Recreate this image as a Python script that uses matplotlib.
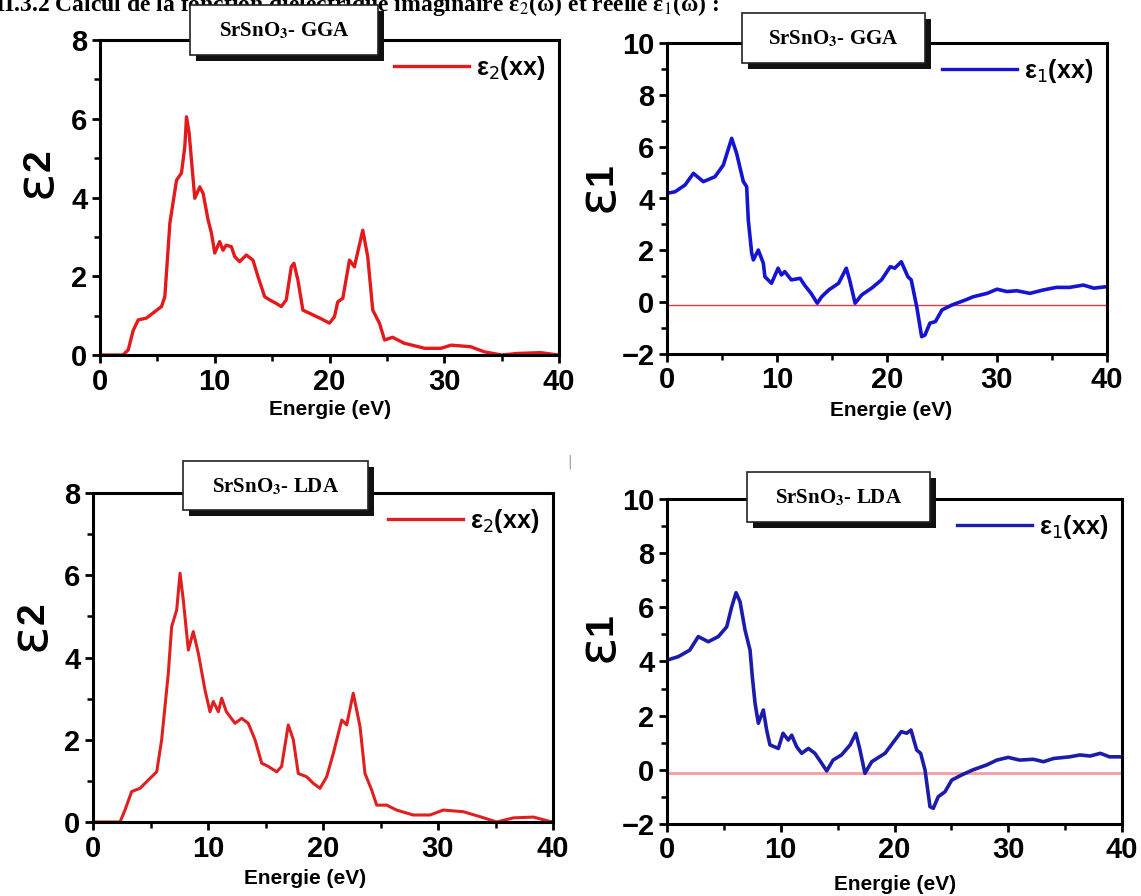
import matplotlib
matplotlib.use("Agg")
import matplotlib.pyplot as plt
from matplotlib.patches import Rectangle
from matplotlib.ticker import MultipleLocator

# ---------------- data ----------------
energy_gga_e2 = [0, 2.0, 2.46, 2.9, 3.33, 4.06, 4.64, 5.36, 5.65, 6.09, 6.67, 7.1, 7.39, 7.54, 7.77,
                 8.26, 8.7, 8.99, 9.42, 9.71, 10.0, 10.43, 10.72, 11.0, 11.45, 11.74, 12.17, 12.75,
                 13.33, 13.77, 14.35, 14.78, 15.36, 15.8, 16.23, 16.67, 16.9, 17.25, 17.68, 18.26,
                 19.13, 20.0, 20.43, 20.72, 21.16, 21.74, 22.17, 22.9, 23.33, 23.77, 24.35, 24.8,
                 25.5, 26.5, 28.3, 29.7, 30.6, 32.3, 33.5, 35.0, 36.4, 38.4, 39.9, 40]
eps2_gga = [0, 0, 0.13, 0.63, 0.89, 0.94, 1.07, 1.23, 1.48, 3.35, 4.44, 4.62, 5.29, 6.05, 5.63,
            3.98, 4.27, 4.1, 3.43, 3.1, 2.59, 2.88, 2.66, 2.79, 2.75, 2.5, 2.37, 2.54,
            2.41, 1.99, 1.48, 1.40, 1.31, 1.23, 1.40, 2.24, 2.33, 1.9, 1.14, 1.06,
            0.94, 0.81, 0.97, 1.35, 1.44, 2.41, 2.24, 3.17, 2.5, 1.14, 0.81, 0.38,
            0.45, 0.3, 0.17, 0.17, 0.25, 0.21, 0.08, 0.0, 0.04, 0.06, 0.0, 0.02]

energy_gga_e1 = [0, 0.73, 1.64, 2.4, 3.3, 4.36, 5.12, 5.88, 6.33, 6.94, 7.24, 7.39, 7.7, 7.85,
                 8.3, 8.76, 8.9, 9.5, 10.1, 10.4, 10.7, 11.3, 12.1, 12.5, 13.1, 13.66, 14.06,
                 14.7, 15.6, 16.3, 16.6, 17.1, 17.7, 18.6, 19.5, 20.3, 20.7, 21.3, 21.9, 22.2,
                 22.7, 23.15, 23.45, 23.9, 24.4, 25.0, 25.9, 27.1, 27.85, 29.1, 30.0, 30.9,
                 31.8, 33.0, 34.2, 35.4, 36.6, 37.85, 38.8, 40]
eps1_gga = [4.2, 4.26, 4.52, 4.97, 4.65, 4.84, 5.29, 6.32, 5.74, 4.65, 4.46, 3.17, 1.89, 1.63,
            2.01, 1.5, 0.98, 0.73, 1.31, 1.05, 1.18, 0.86, 0.92, 0.66, 0.34, -0.04, 0.21,
            0.47, 0.73, 1.31, 0.86, -0.04, 0.28, 0.54, 0.86, 1.37, 1.31, 1.56, 0.98, 0.86,
            -0.17, -1.33, -1.27, -0.81, -0.75, -0.3, -0.11, 0.08, 0.21, 0.34, 0.5, 0.41,
            0.44, 0.34, 0.47, 0.57, 0.57, 0.66, 0.54, 0.6]

energy_lda_e2 = [0, 2.35, 2.78, 3.36, 4.09, 4.81, 5.54, 5.97, 6.55, 6.84, 7.28, 7.57, 7.85, 8.29,
                 8.72, 9.16, 9.74, 10.17, 10.46, 10.9, 11.19, 11.6, 12.35, 12.93, 13.5, 14.09,
                 14.67, 15.25, 15.97, 16.4, 16.98, 17.42, 17.85, 18.58, 19.16, 19.74, 20.32,
                 20.9, 21.63, 22.06, 22.63, 23.22, 23.65, 24.23, 24.67, 25.54, 26.4, 27.85,
                 29.3, 30.46, 32.2, 33.65, 35.1, 36.55, 38.3, 39.9, 40]
eps2_lda = [0, 0, 0.29, 0.74, 0.82, 1.02, 1.22, 2.0, 3.62, 4.75, 5.16, 6.05, 5.4, 4.18,
            4.63, 4.1, 3.21, 2.68, 2.93, 2.68, 3.01, 2.68, 2.4, 2.52, 2.4, 2.0,
            1.43, 1.35, 1.22, 1.35, 2.36, 2.0, 1.18, 1.1, 0.94, 0.82, 1.1,
            1.67, 2.48, 2.36, 3.13, 2.32, 1.18, 0.78, 0.41, 0.41, 0.29, 0.17,
            0.17, 0.29, 0.25, 0.13, 0.0, 0.1, 0.12, 0.0, 0.02]

energy_lda_e1 = [0, 1.0, 2.0, 2.75, 3.63, 4.51, 5.25, 5.69, 6.07, 6.42, 6.86, 7.3, 7.5, 7.74,
                 8.03, 8.47, 8.76, 9.05, 9.79, 10.2, 10.66, 10.96, 11.4, 11.84, 12.43, 13.0,
                 13.6, 14.04, 14.6, 15.34, 16.1, 16.6, 16.97, 17.4, 18.0, 19.17, 20.04, 20.6,
                 21.07, 21.45, 21.95, 22.3, 22.68, 23.12, 23.41, 23.85, 24.44, 25.03, 25.9,
                 26.9, 28.1, 29.0, 30.0, 31.0, 32.2, 33.1, 34.0, 35.4, 36.3, 37.2, 38.1,
                 38.9, 40]
eps1_lda = [4.05, 4.18, 4.42, 4.92, 4.73, 4.92, 5.28, 6.02, 6.54, 6.21, 5.16, 4.42, 3.44, 2.46,
            1.72, 2.21, 1.47, 0.92, 0.79, 1.35, 1.1, 1.28, 0.85, 0.61, 0.79, 0.61,
            0.24, -0.04, 0.36, 0.55, 0.92, 1.35, 0.73, -0.13, 0.3, 0.61, 1.1, 1.41,
            1.35, 1.47, 0.73, 0.61, 0.0, -1.36, -1.42, -0.99, -0.81, -0.38, -0.19,
            0.0, 0.18, 0.36, 0.46, 0.36, 0.39, 0.3, 0.42, 0.48, 0.55, 0.51, 0.61,
            0.48, 0.48]

ref_level = -0.1

box_titles = ["SrSnO$_\\mathbf{3}$- GGA", "SrSnO$_\\mathbf{3}$- GGA",
              "SrSnO$_\\mathbf{3}$- LDA", "SrSnO$_\\mathbf{3}$- LDA"]
legend_e2 = "ε$_2$(xx)"
legend_e1 = "ε$_1$(xx)"
ylabel_e2 = ("ε", "2")
ylabel_e1 = ("ε", "1")
xlabel = "Energie (eV)"
header = "II.3.2 Calcul de la fonction diélectrique imaginaire ε$_2$(ω) et réelle ε$_1$(ω) :"

# ---------------- figure ----------------
W, H = 1141, 896
fig = plt.figure(figsize=(W / 100, H / 100), dpi=100)
fig.patch.set_facecolor("white")


def px_rect(l, t, r, b):
    return [l / W, 1 - b / H, (r - l) / W, (b - t) / H]


panels = [
    dict(rect=px_rect(100, 40, 559, 355), x=energy_gga_e2, y=eps2_gga, color="#e3191c", lw=2.4,
         ylim=(0, 8), ymaj=2, leg=legend_e2, ylab=ylabel_e2, ylab_pos=(36, 172),
         xlab_pos=(330, 409), box=(190, 5, 378, 55), title=box_titles[0], ref=None),
    dict(rect=px_rect(667, 43, 1107, 354), x=energy_gga_e1, y=eps1_gga, color="#1414d2", lw=2.6,
         ylim=(-2, 10), ymaj=2, leg=legend_e1, ylab=ylabel_e1, ylab_pos=(598, 186),
         xlab_pos=(891, 410), box=(742, 13, 925, 63), title=box_titles[1],
         ref=dict(color="#d84040", lw=1.0)),
    dict(rect=px_rect(93, 493, 553, 822), x=energy_lda_e2, y=eps2_lda, color="#e02020", lw=2.2,
         ylim=(0, 8), ymaj=2, leg=legend_e2, ylab=ylabel_e2, ylab_pos=(30, 625),
         xlab_pos=(305, 878), box=(183, 461, 368, 510), title=box_titles[2], ref=None),
    dict(rect=px_rect(667, 499, 1122, 824), x=energy_lda_e1, y=eps1_lda, color="#1c1caa", lw=2.6,
         ylim=(-2, 10), ymaj=2, leg=legend_e1, ylab=ylabel_e1, ylab_pos=(598, 636),
         xlab_pos=(895, 884), box=(747, 472, 930, 522), title=box_titles[3],
         ref=dict(color="#f5a3ab", lw=2.2)),
]

for p in panels:
    ax = fig.add_axes(p["rect"])
    if p["ref"] is not None:
        ax.axhline(ref_level, color=p["ref"]["color"], lw=p["ref"]["lw"], zorder=1)
    ax.plot(p["x"], p["y"], color=p["color"], lw=p["lw"], label=p["leg"], zorder=2,
            solid_joinstyle="round")
    ax.set_xlim(0, 40)
    ax.set_ylim(*p["ylim"])
    ax.xaxis.set_major_locator(MultipleLocator(10))
    ax.xaxis.set_minor_locator(MultipleLocator(5))
    ax.yaxis.set_major_locator(MultipleLocator(p["ymaj"]))
    ax.yaxis.set_minor_locator(MultipleLocator(1))
    for s in ax.spines.values():
        s.set_linewidth(2.2)
    ax.tick_params(which="major", direction="out", length=6, width=2, pad=3)
    ax.tick_params(which="minor", direction="out", length=4, width=1.8)
    for lab in ax.get_xticklabels() + ax.get_yticklabels():
        lab.set_fontfamily("Liberation Sans")
        lab.set_fontweight("bold")
        lab.set_fontsize(21)
    leg = ax.legend(loc="upper right", frameon=False, handlelength=3.0, handletextpad=0.3,
                    borderaxespad=0.15, bbox_to_anchor=(1.0, 1.0),
                    prop=dict(family="Liberation Sans", weight="bold", size=18))
    for line in leg.get_lines():
        line.set_linewidth(2.4)

    # y label: big epsilon with its index just above it (rotated)
    cx, cy = p["ylab_pos"]
    fig.text(cx / W, 1 - (cy + 12) / H, p["ylab"][0], rotation=90,
             ha="center", va="center", fontsize=38, fontfamily="DejaVu Sans")
    fig.text((cx + 4) / W, 1 - (cy - 12) / H, p["ylab"][1], rotation=90,
             ha="center", va="center", fontsize=28, fontfamily="Liberation Sans",
             fontweight="bold")
    # x label
    fig.text(p["xlab_pos"][0] / W, 1 - p["xlab_pos"][1] / H, xlabel, ha="center", va="center",
             fontfamily="Liberation Sans", fontweight="bold", fontsize=15)

    # title box with shadow
    l, t, r, b = p["box"]
    sh = 6
    fig.add_artist(Rectangle(((l + sh) / W, 1 - (b + sh) / H), (r - l) / W, (b - t) / H,
                             transform=fig.transFigure, facecolor="#111111",
                             edgecolor="none", zorder=5))
    fig.add_artist(Rectangle((l / W, 1 - b / H), (r - l) / W, (b - t) / H,
                             transform=fig.transFigure, facecolor="white",
                             edgecolor="#222222", lw=1.2, zorder=6))
    fig.text((l + r) / 2 / W, 1 - ((t + b) / 2 + 1) / H, p["title"], ha="center", va="center",
             fontfamily="Liberation Serif", fontweight="bold", fontsize=15,
             math_fontfamily="stix", zorder=7)

# header text, cut by the top edge as in the source scan
fig.text(-0.004, 1 - 11 / H, header, ha="left", va="baseline",
         fontfamily="Liberation Serif", fontweight="bold", fontsize=17,
         math_fontfamily="stix")
# small stray mark
fig.text(570 / W, 1 - 462 / H, "|", ha="center", va="center", fontsize=10, color="#999999")

fig.savefig("out.png", dpi=100, facecolor="white")
